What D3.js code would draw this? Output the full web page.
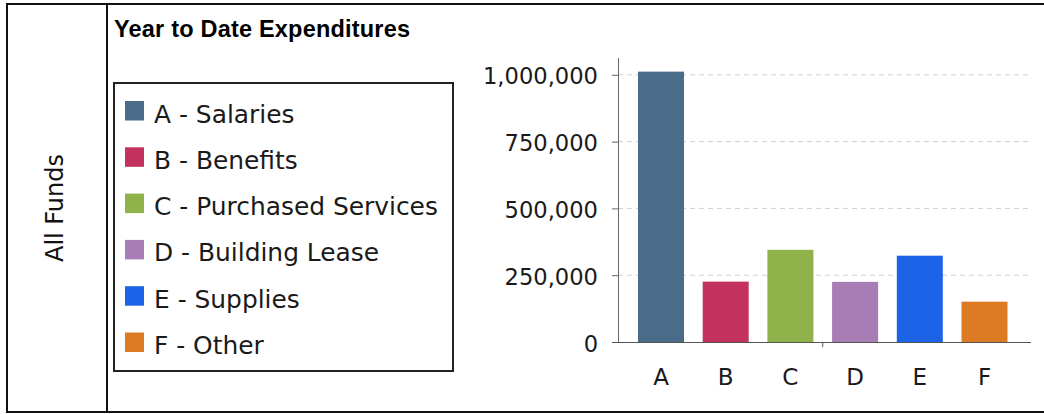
<!DOCTYPE html>
<html lang="en">
  <head>
    <meta charset="UTF-8" />
    <title>Year to Date Expenditures</title>
    <script src="https://d3js.org/d3.v7.min.js"></script>
    <style>
      body {
        margin: 0;
        background: #fff;
        font-family: "DejaVu Sans", sans-serif;
      }
      .frame {
        stroke: #111;
        stroke-width: 2px;
        fill: none;
      }
      .title {
        font-family: "Liberation Sans", Arial, sans-serif;
        font-size: 23.5px;
        font-weight: bold;
        letter-spacing: 0.2px;
        fill: #000;
      }
      .side-label {
        font-size: 24px;
        fill: #111;
      }
      .legend-text {
        font-size: 24.9px;
        fill: #1a1a1a;
      }
      .tick-label {
        font-size: 22.6px;
        fill: #1a1a1a;
      }
      .cat-label {
        font-size: 23px;
        fill: #1a1a1a;
      }
      .grid line {
        stroke: #cfcfcf;
        stroke-width: 1px;
        stroke-dasharray: 5, 4;
      }
    </style>
  </head>
  <body>
    <svg id="chart" width="1044" height="414"></svg>

    <script>
      // chart data
      const categories = ["A", "B", "C", "D", "E", "F"];
      const categoryNames = [
        "Salaries",
        "Benefits",
        "Purchased Services",
        "Building Lease",
        "Supplies",
        "Other",
      ];
      const expenditures = [1012000, 226000, 345000, 225000, 323000, 151000];
      const barColors = ["#4b6b8a", "#c3315f", "#8fb24b", "#a87db6", "#1c63e7", "#dc7b24"];
      const yTicks = [0, 250000, 500000, 750000, 1000000];

      const svg = d3.select("#chart");

      // outer table frame
      svg.append("line").attr("class", "frame").attr("x1", 6).attr("x2", 1044).attr("y1", 4).attr("y2", 4);
      svg.append("line").attr("class", "frame").attr("x1", 6).attr("x2", 1044).attr("y1", 412).attr("y2", 412);
      svg.append("line").attr("class", "frame").attr("x1", 7).attr("x2", 7).attr("y1", 3).attr("y2", 413);
      svg.append("line").attr("class", "frame").attr("x1", 107).attr("x2", 107).attr("y1", 3).attr("y2", 413);

      // row label
      svg
        .append("text")
        .attr("class", "side-label")
        .attr("transform", "translate(63, 208) rotate(-90)")
        .attr("text-anchor", "middle")
        .text("All Funds");

      // title
      svg
        .append("text")
        .attr("class", "title")
        .attr("x", 114)
        .attr("y", 36.5)
        .text("Year to Date Expenditures");

      // legend
      svg
        .append("rect")
        .attr("x", 114)
        .attr("y", 83)
        .attr("width", 339)
        .attr("height", 288)
        .attr("fill", "none")
        .attr("stroke", "#222")
        .attr("stroke-width", 2);

      const rowY = d3.scaleLinear().domain([0, 5]).range([122.5, 354]);

      const legendRows = svg
        .append("g")
        .selectAll("g")
        .data(categories)
        .join("g")
        .attr("transform", (d, i) => `translate(0, ${rowY(i)})`);

      legendRows
        .append("rect")
        .attr("x", 125)
        .attr("y", -21.5)
        .attr("width", 19)
        .attr("height", 19.5)
        .attr("fill", (d, i) => barColors[i]);

      legendRows
        .append("text")
        .attr("class", "legend-text")
        .attr("x", 154)
        .attr("y", 0)
        .text((d, i) => `${d} - ${categoryNames[i]}`);

      // scales
      const x = d3
        .scaleBand()
        .domain(categories)
        .range([628.65, 1016.85])
        .paddingInner(0.289)
        .paddingOuter(0.1445);

      const y = d3.scaleLinear().domain([0, 1063000]).range([342, 58]);

      const axisLeft = 618;
      const plotRight = 1031;

      // gridlines
      svg
        .append("g")
        .attr("class", "grid")
        .selectAll("line")
        .data(yTicks.filter((t) => t > 0))
        .join("line")
        .attr("x1", axisLeft)
        .attr("x2", plotRight)
        .attr("y1", (d) => y(d))
        .attr("y2", (d) => y(d));

      // bars
      svg
        .append("g")
        .selectAll("rect")
        .data(expenditures)
        .join("rect")
        .attr("x", (d, i) => x(categories[i]))
        .attr("width", x.bandwidth())
        .attr("y", (d) => y(d))
        .attr("height", (d) => y(0) - y(d))
        .attr("fill", (d, i) => barColors[i]);

      // y axis
      const yAxis = svg
        .append("g")
        .attr("transform", `translate(${axisLeft}, 0)`)
        .call(d3.axisLeft(y).tickValues(yTicks).tickSize(6).tickPadding(0).tickFormat(d3.format(",")));
      yAxis.attr("font-size", null).attr("font-family", null);
      yAxis.select(".domain").attr("stroke", "#666").attr("d", `M0.5,${y.range()[1]}V${y(0)}`);
      yAxis.selectAll(".tick line").attr("stroke", "#666");
      yAxis
        .selectAll(".tick text")
        .attr("class", "tick-label")
        .attr("x", -20)
        .attr("dy", "9px");

      // x axis
      const xAxis = svg
        .append("g")
        .attr("transform", `translate(0, ${y(0)})`)
        .call(d3.axisBottom(x).tickSize(0).tickPadding(0));
      xAxis.attr("font-size", null).attr("font-family", null);
      xAxis.select(".domain").attr("stroke", "#555").attr("d", `M612,0.5H${plotRight}`);
      xAxis
        .selectAll(".tick text")
        .attr("class", "cat-label")
        .attr("y", 42.5)
        .attr("dy", null);

      // small centre tick on the category axis
      const xMid = (x.range()[0] + x.range()[1]) / 2;
      xAxis
        .append("line")
        .attr("x1", xMid)
        .attr("x2", xMid)
        .attr("y1", 0)
        .attr("y2", 5)
        .attr("stroke", "#555");
    </script>
  </body>
</html>
